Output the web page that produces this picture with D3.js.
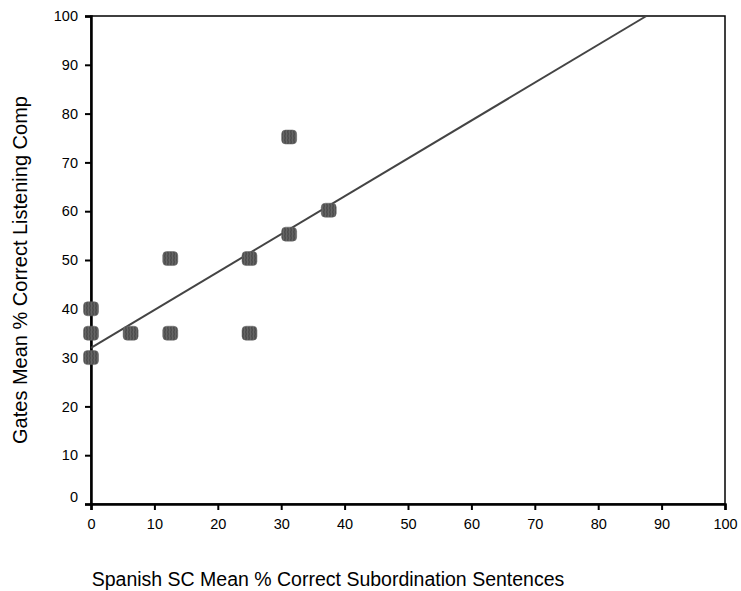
<!DOCTYPE html>
<html>
<head>
<meta charset="utf-8">
<script src="https://cdn.jsdelivr.net/npm/d3@7"></script>
<style>
  body { margin: 0; background: #fff; }
  text { font-family: "Liberation Sans", Arial, sans-serif; fill: #000; }
</style>
</head>
<body>
<div id="chart"></div>
<script>
const xValues = [0, 0, 0, 6.25, 12.5, 12.5, 25, 25, 31.25, 31.25, 37.5];
const yValues = [40, 35, 30, 35, 35, 50.3, 35, 50.3, 55.3, 75.2, 60.2];
const xTicks = [0, 10, 20, 30, 40, 50, 60, 70, 80, 90, 100];
const yTicks = [0, 10, 20, 30, 40, 50, 60, 70, 80, 90, 100];
const fitLine = [[0, 32], [87.6, 100]];

const width = 741;
const height = 591;
const margin = { top: 16, right: 16, bottom: 87, left: 91 };

const svg = d3.select('#chart')
  .append('svg')
  .attr('width', width)
  .attr('height', height);

const x = d3.scaleLinear().domain([0, 100]).range([margin.left, width - margin.right]);
const y = d3.scaleLinear().domain([0, 100]).range([height - margin.bottom, margin.top]);

// hatched fill for the markers
const defs = svg.append('defs');
const pat = defs.append('pattern')
  .attr('id', 'hatch')
  .attr('patternUnits', 'userSpaceOnUse')
  .attr('width', 3)
  .attr('height', 4);
pat.append('rect').attr('width', 3).attr('height', 4).attr('fill', '#4e4e4e');
pat.append('path')
  .attr('d', 'M1,0 L2,2 L1,4')
  .attr('fill', 'none')
  .attr('stroke', '#7a7a7a')
  .attr('stroke-width', 0.7);

// frame
svg.append('rect')
  .attr('x', x(0))
  .attr('y', y(100))
  .attr('width', x(100) - x(0))
  .attr('height', y(0) - y(100))
  .attr('fill', 'none')
  .attr('stroke', '#000')
  .attr('stroke-width', 1.5);

const xAxis = svg.append('g')
  .attr('transform', `translate(0,${y(0)})`)
  .call(d3.axisBottom(x).tickValues(xTicks).tickSize(6).tickPadding(9));

const yAxis = svg.append('g')
  .attr('transform', `translate(${x(0)},0)`)
  .call(d3.axisLeft(y).tickValues(yTicks).tickSize(6).tickPadding(7));

[xAxis, yAxis].forEach(a => {
  a.select('.domain').attr('stroke-width', 2.5);
  a.selectAll('.tick line').attr('stroke-width', 2);
  a.selectAll('.tick text').style('font-size', '14.5px');
});
yAxis.selectAll('.tick text').filter(d => d === 0).attr('dy', '-0.15em');

// regression line
svg.append('line')
  .attr('x1', x(fitLine[0][0]))
  .attr('y1', y(fitLine[0][1]))
  .attr('x2', x(fitLine[1][0]))
  .attr('y2', y(fitLine[1][1]))
  .attr('stroke', '#444')
  .attr('stroke-width', 2);

// markers
const pts = xValues.map((v, i) => ({ x: v, y: yValues[i] }));
svg.append('g')
  .selectAll('rect')
  .data(pts)
  .enter()
  .append('rect')
  .attr('x', d => x(d.x) - 7.5)
  .attr('y', d => y(d.y) - 7)
  .attr('width', 15)
  .attr('height', 14)
  .attr('rx', 4)
  .attr('fill', 'url(#hatch)')
  .attr('stroke', '#666')
  .attr('stroke-width', 0.5);

svg.append('text')
  .attr('x', 328)
  .attr('y', 586)
  .style('text-anchor', 'middle')
  .style('font-size', '19.5px')
  .text('Spanish SC Mean % Correct Subordination Sentences');

svg.append('text')
  .attr('transform', 'translate(27,270) rotate(-90)')
  .style('text-anchor', 'middle')
  .style('font-size', '20px')
  .text('Gates Mean % Correct Listening Comp');
</script>
</body>
</html>
